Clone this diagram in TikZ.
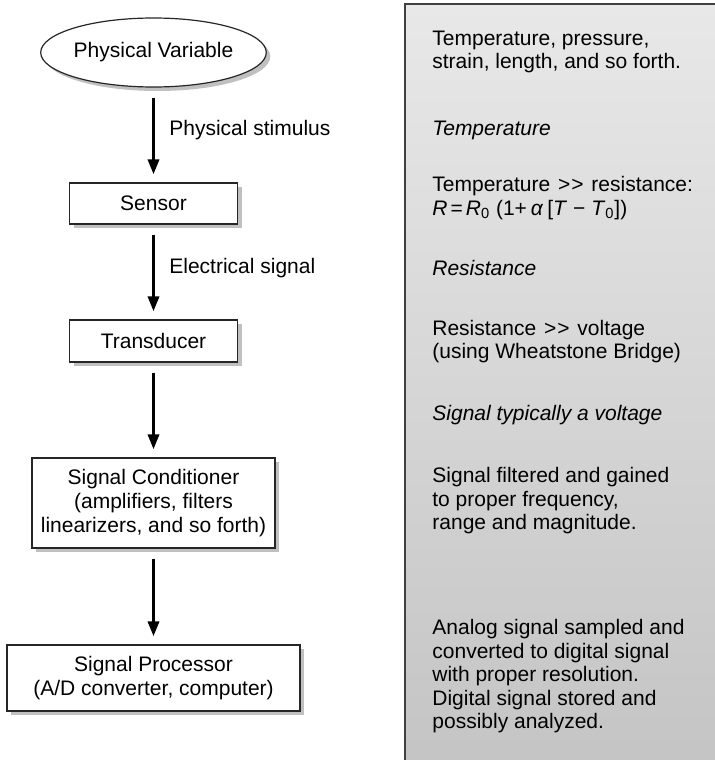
\documentclass[tikz,border=0pt]{standalone}
\usepackage{fontspec}
\setmainfont[Ligatures=NoCommon]{Liberation Sans}
\usetikzlibrary{shapes.geometric, arrows.meta, shadows}
\newcommand{\gtgt}{\kern1pt>\kern0.5pt>\kern1pt}
\tikzset{
    boxnode/.style={
        rectangle,
        draw=black!85, % dark outline
        fill=white,
        line width=0.6pt,
        inner sep=0,
        align=center,
        drop shadow={shadow xshift=2pt, shadow yshift=-2pt, fill=black!45, opacity=0.55}
    },
    ellipsenode/.style={
        ellipse,
        draw=black!85, % dark outline
        fill=white,
        line width=0.6pt,
        inner sep=0,
        minimum width=100pt,
        minimum height=34.5pt,
        drop shadow={shadow xshift=2pt, shadow yshift=-2pt, fill=black!45, opacity=0.55}
    },
    textnode/.style={
        anchor=west,
        inner sep=0,
        align=left,
        font=\fontsize{10.5}{11.75}\selectfont
    },
    arrowline/.style={
        line width=1.6pt,
        -{Triangle[width=5.5pt, length=7.5pt]},
        shorten <=5pt, % gap below the upper node
        shorten >=4pt
    }
}

\begin{document}
\begin{tikzpicture}[
                x=0.5pt, y=-0.5pt,
                every node/.style={font=\fontsize{10.5}{12}\selectfont}
            ]
            \useasboundingbox (0,0) rectangle (714,760);
            % grey panel on the right
            \shade[top color=gray!18, bottom color=gray!46] (405,4) rectangle (716,762);
            \draw[line width=1pt, draw=black!75] (405,762) -- (405,4) -- (716,4);

            % chain of stages
            \node[ellipsenode] (physvar) at (153.5,52.5) {Physical Variable};
            \node[boxnode, minimum width=84pt, minimum height=20.5pt] (sensor) at (153.5,203.5) {Sensor};
            \node[boxnode, minimum width=84pt, minimum height=21pt] (transducer) at (153.5,341) {Transducer};
            \node[boxnode, minimum width=121.5pt, minimum height=45pt] (conditioner) at (153.5,503)
                {Signal Conditioner\\(amplifiers, filters\\linearizers, and so forth)};
            \node[boxnode, minimum width=146.5pt, minimum height=33pt] (processor) at (153.5,678)
                {Signal Processor\\(A/D converter, computer)};

            \draw[arrowline] (physvar) -- (sensor);
            \draw[arrowline] (sensor) -- (transducer);
            \draw[arrowline] (transducer) -- (conditioner);
            \draw[arrowline] (conditioner) -- (processor);

            \node[textnode] (stimulus) at (169,130) {Physical stimulus};
            \node[textnode] (electrical) at (169,268) {Electrical signal};

            % notes in the panel
            \node[textnode] (note1) at (432,52) {Temperature, pressure,\\strain, length, and so forth.};
            \node[textnode] (note2) at (432,130) {\textit{Temperature}};
            \node[textnode] (note3) at (432,198) {Temperature \gtgt{} resistance:\\
                \textit{R}\kern1.5pt=\kern1.5pt\textit{R}\textsubscript{0}\ (1+\kern2pt\textit{α}\kern2pt[\textit{T} − \textit{T}\textsubscript{0}])};
            \node[textnode] (note4) at (432,268) {\textit{Resistance}};
            \node[textnode] (note5) at (432,341.5) {Resistance \gtgt{} voltage\\(using Wheatstone Bridge)};
            \node[textnode] (note6) at (432,415) {\textit{Signal typically a voltage}};
            \node[textnode] (note7) at (432,501) {Signal filtered and gained\\to proper frequency,\\range and magnitude.};
            \node[textnode] (note8) at (432,676.5) {Analog signal sampled and\\converted to digital signal\\with proper resolution.\\Digital signal stored and\\possibly analyzed.};
\end{tikzpicture}
\end{document}
